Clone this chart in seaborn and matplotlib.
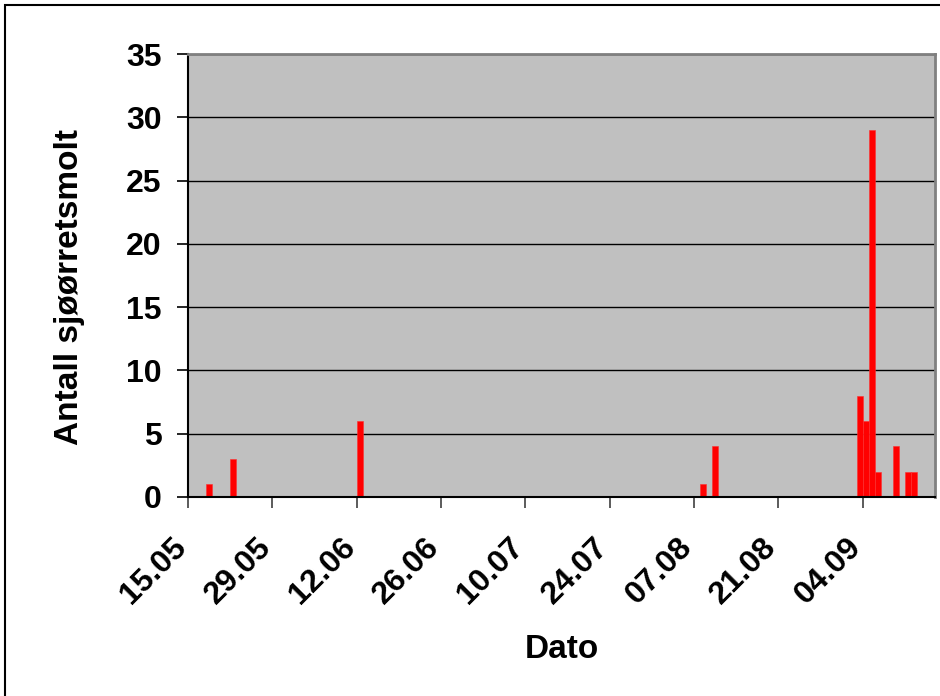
import numpy as np
import pandas as pd
import matplotlib
matplotlib.use("Agg")
import matplotlib.pyplot as plt
import matplotlib.transforms as mtransforms
from matplotlib.patches import Rectangle
import seaborn as sns

# Daily catch of sea-trout smolt in the trap
catch_dates = ["18.05", "22.05", "12.06", "08.08", "10.08",
               "03.09", "04.09", "05.09", "06.09", "09.09", "11.09", "12.09"]
catch_counts = [1, 3, 6, 1, 4, 8, 6, 29, 2, 4, 2, 2]

# Axis labelling
tick_dates = ["15.05", "29.05", "12.06", "26.06", "10.07", "24.07",
              "07.08", "21.08", "04.09"]
season_start = "15.05"
season_end = "16.09"
season_year = 2008
y_ticks = [0, 5, 10, 15, 20, 25, 30, 35]


def to_day(s):
    d = pd.to_datetime(f"{s}.{season_year}", format="%d.%m.%Y")
    start = pd.to_datetime(f"{season_start}.{season_year}", format="%d.%m.%Y")
    return (d - start).days


df = pd.DataFrame({"day": [to_day(s) + 0.5 for s in catch_dates],
                   "antall": catch_counts})
n_days = to_day(season_end)

sns.set_theme(style="white")
plt.rcParams["font.family"] = ["Liberation Sans", "DejaVu Sans"]
plt.rcParams["font.weight"] = "bold"
plt.rcParams["text.color"] = "black"
plt.rcParams["axes.labelcolor"] = "black"
plt.rcParams["xtick.color"] = "black"
plt.rcParams["ytick.color"] = "black"

fig = plt.figure(figsize=(9.4, 6.96), dpi=100)
ax = fig.add_axes([188 / 940, 1 - 497 / 696, (935 - 188) / 940, (497 - 54) / 696])
ax.set_facecolor("#C0C0C0")

sns.histplot(data=df, x="day", weights="antall", binwidth=1, binrange=(0, n_days),
             color="#FF0000", alpha=1.0, edgecolor="#FF3030", linewidth=0.4, ax=ax)

ax.set_xlim(0, n_days)
ax.set_ylim(0, 35)
ax.set_yticks(y_ticks)
ax.set_yticklabels([str(v) for v in y_ticks], fontsize=23, fontweight="bold")
ax.set_xticks([to_day(s) for s in tick_dates])
ax.set_xticklabels(tick_dates, rotation=45, ha="right", va="center",
                   rotation_mode="anchor", fontsize=23, fontweight="bold")
ax.tick_params(axis="both", direction="out", length=8, width=1.2,
               colors="black", bottom=True, left=True)
ax.tick_params(axis="y", pad=11)
ax.tick_params(axis="x", pad=25, color="#404040")

# nudge the rotated date labels slightly left
shift = mtransforms.ScaledTranslation(-6 / 100, 0, fig.dpi_scale_trans)
for lbl in ax.get_xticklabels():
    lbl.set_transform(lbl.get_transform() + shift)

ax.yaxis.grid(True, color="black", linewidth=1.0)
ax.xaxis.grid(False)
ax.set_axisbelow(True)

for side in ["top", "right"]:
    ax.spines[side].set_color("#808080")
    ax.spines[side].set_linewidth(2)
for side in ["left", "bottom"]:
    ax.spines[side].set_color("black")
    ax.spines[side].set_linewidth(1.5)

ax.set_xlabel("Dato", fontsize=24, fontweight="bold")
ax.xaxis.set_label_coords(0.5, -(634 - 497) / 443)
ax.set_ylabel("Antall sjøørretsmolt", fontsize=24, fontweight="bold")
ax.yaxis.set_label_coords(-(188 - 85) / 747, 1 - (287 - 54) / 443)

# Chart frame
fig.patches.append(Rectangle((5 / 940, -0.1), 1.2, 1 - 5 / 696 + 0.1,
                             transform=fig.transFigure, fill=False,
                             edgecolor="black", linewidth=1.5, clip_on=False))

fig.savefig("out.png", dpi=100)
